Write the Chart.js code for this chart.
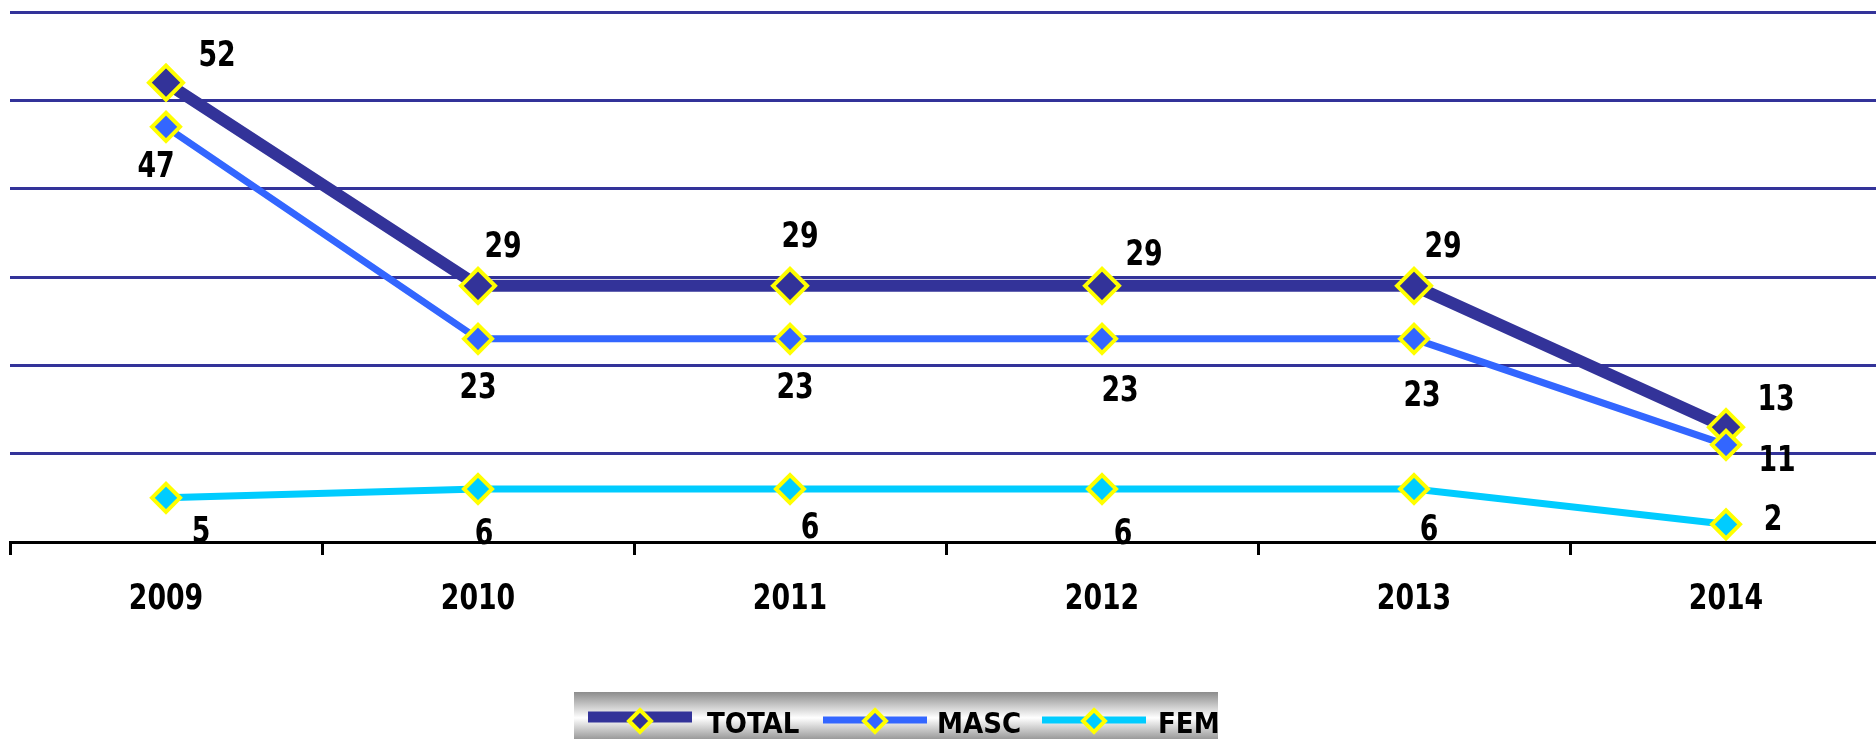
<!DOCTYPE html>
<html>
<head>
<meta charset="utf-8">
<script src="https://cdn.jsdelivr.net/npm/chart.js@4"></script>
<style>
  html, body { margin: 0; padding: 0; background: #fff; overflow: hidden; }
  #wrap { width: 1882px; height: 739px; }
</style>
</head>
<body>
<div id="wrap"><canvas id="chart"></canvas></div>
<script>
const years = ['2009', '2010', '2011', '2012', '2013', '2014'];
const total = [52, 29, 29, 29, 29, 13];
const masc = [47, 23, 23, 23, 23, 11];
const fem = [5, 6, 6, 6, 6, 2];

// label offsets (px) from each point, as placed in the original
const labelOffsets = [
  { dx: [51, 25, 10, 42, 29, 50], dy: [-29, -42, -52, -34, -42, -30] },
  { dx: [-10, 0, 5, 18, 8, 51], dy: [37, 46, 46, 49, 54, 13] },
  { dx: [35, 6, 20, 21, 15, 47], dy: [31, 42, 36, 42, 38, -7] },
];

const FAMILY = '"DejaVu Sans Condensed", "DejaVu Sans", sans-serif';

// draws condensed bold text centred (vertically) on y
function squeezeText(ctx, text, x, y, size, sx, align) {
  ctx.save();
  ctx.font = 'bold ' + size + 'px ' + FAMILY;
  ctx.textAlign = align || 'center';
  ctx.textBaseline = 'alphabetic';
  ctx.fillStyle = '#000';
  ctx.translate(x, y + size * 0.365);
  ctx.scale(sx, 1);
  ctx.fillText(text, 0, 0);
  ctx.restore();
}

const dataLabels = {
  id: 'dataLabels',
  afterDatasetsDraw(chart) {
    const ctx = chart.ctx;
    chart.data.datasets.forEach((ds, i) => {
      const off = labelOffsets[i];
      chart.getDatasetMeta(i).data.forEach((pt, j) => {
        squeezeText(ctx, String(ds.data[j]), pt.x + off.dx[j], pt.y + off.dy[j], 35, 0.85);
      });
    });
    // year labels under the axis
    const xs = chart.scales.x;
    years.forEach((y, k) => {
      squeezeText(ctx, y, xs.getPixelForValue(k), 596, 35, 0.85);
    });
  }
};

// legend drawn by hand: silver box with line + diamond samples
const silverLegend = {
  id: 'silverLegend',
  afterDraw(chart) {
    const ctx = chart.ctx;
    const x0 = 574, y0 = 692, w = 644, h = 47;
    ctx.save();
    const g = ctx.createLinearGradient(0, y0, 0, y0 + h);
    g.addColorStop(0, '#8c8c8c');
    g.addColorStop(0.55, '#ffffff');
    g.addColorStop(1, '#9a9a9a');
    ctx.fillStyle = g;
    ctx.fillRect(x0, y0, w, h);

    const items = [
      { lx: 588, ty: 717, tx: 707 },
      { lx: 823, ty: 720, tx: 937 },
      { lx: 1042, ty: 720, tx: 1158 },
    ];
    chart.data.datasets.forEach((ds, i) => {
      const it = items[i];
      ctx.strokeStyle = ds.borderColor;
      ctx.lineWidth = i === 0 ? 11 : 7;
      ctx.beginPath();
      ctx.moveTo(it.lx, it.ty);
      ctx.lineTo(it.lx + 104, it.ty);
      ctx.stroke();
      // diamond
      const cx = it.lx + 52, cy = 721, r = 11;
      ctx.beginPath();
      ctx.moveTo(cx, cy - r);
      ctx.lineTo(cx + r, cy);
      ctx.lineTo(cx, cy + r);
      ctx.lineTo(cx - r, cy);
      ctx.closePath();
      ctx.fillStyle = ds.pointBackgroundColor;
      ctx.fill();
      ctx.strokeStyle = '#ffff00';
      ctx.lineWidth = 4;
      ctx.stroke();
      squeezeText(ctx, ds.label, it.tx, 722, 29, 1, 'left');
    });
    ctx.restore();
  }
};

new Chart(document.getElementById('chart'), {
  type: 'line',
  data: {
    labels: years,
    datasets: [
      {
        label: 'TOTAL',
        data: total,
        borderColor: '#333399',
        backgroundColor: '#333399',
        pointBackgroundColor: '#333399',
        borderWidth: 12,
        pointStyle: 'rectRot',
        pointRadius: 17,
        pointBorderColor: '#ffff00',
        pointBorderWidth: 4,
        order: 3,
      },
      {
        label: 'MASC',
        data: masc,
        borderColor: '#3366ff',
        backgroundColor: '#3366ff',
        pointBackgroundColor: '#3366ff',
        borderWidth: 7,
        pointStyle: 'rectRot',
        pointRadius: 14,
        pointBorderColor: '#ffff00',
        pointBorderWidth: 4,
        order: 2,
      },
      {
        label: 'FEM',
        data: fem,
        borderColor: '#00ccff',
        backgroundColor: '#00ccff',
        pointBackgroundColor: '#00ccff',
        borderWidth: 7,
        pointStyle: 'rectRot',
        pointRadius: 14,
        pointBorderColor: '#ffff00',
        pointBorderWidth: 4,
        order: 1,
      },
    ],
  },
  options: {
    responsive: true,
    maintainAspectRatio: false,
    animation: false,
    layout: { autoPadding: false, padding: { left: 10, right: 0, top: 12, bottom: 0 } },
    plugins: {
      legend: { display: false },
      tooltip: { enabled: false },
    },
    scales: {
      x: {
        offset: true,
        grid: {
          offset: true,
          drawOnChartArea: false,
          drawTicks: true,
          tickLength: 13,
          color: '#000',
          lineWidth: 3,
        },
        border: { color: '#000', width: 3 },
        ticks: { display: false },
        afterFit(scale) { scale.height = 197; },
      },
      y: {
        min: 0,
        max: 60,
        ticks: { display: false, stepSize: 10 },
        border: { display: false },
        grid: { color: '#333399', lineWidth: 3, drawTicks: false },
        afterFit(scale) { scale.width = 0; },
      },
    },
  },
  plugins: [dataLabels, silverLegend],
});
</script>
</body>
</html>
